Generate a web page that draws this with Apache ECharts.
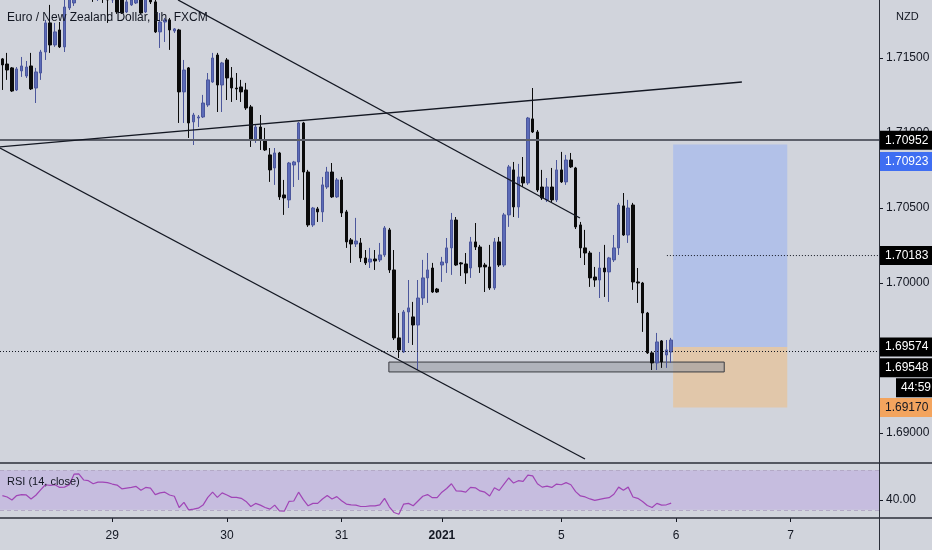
<!DOCTYPE html>
<html><head><meta charset="utf-8">
<script src="https://cdn.jsdelivr.net/npm/echarts/dist/echarts.min.js"></script>
<style>html,body{margin:0;padding:0;background:#d1d4dc;}#c{width:932px;height:550px;}</style>
</head><body><div id="c"></div>
<script>
// ---- data ----
const barCount = 184;
const tickIdx = [23, 47, 71, 92, 117, 141, 165];
const tickText = ['29', '30', '31', '2021', '5', '6', '7'];
const priceTicks = [1.690, 1.700, 1.705, 1.710, 1.715];
const rsiTicks = [40];
// [open, close, low, high]
const candles = [
[1.71494,1.71454,1.71287,1.71500],[1.71460,1.71420,1.71354,1.71534],[1.71434,1.71280,1.71274,1.71440],[1.71287,1.71427,1.71280,1.71440],
[1.71414,1.71447,1.71374,1.71507],[1.71380,1.71440,1.71367,1.71480],[1.71447,1.71294,1.71287,1.71534],[1.71300,1.71407,1.71200,1.71434],
[1.71400,1.71540,1.71354,1.71554],[1.71540,1.71734,1.71487,1.71754],[1.71734,1.71587,1.71534,1.71854],[1.71587,1.71674,1.71574,1.71734],
[1.71687,1.71574,1.71567,1.71740],[1.71574,1.71840,1.71540,1.71907],[1.71834,1.71940,1.71820,1.71967],[1.71867,1.71987,1.71847,1.72020],
[1.71987,1.72087,1.71954,1.72120],[1.72087,1.71987,1.71940,1.72107],[1.71987,1.71954,1.71920,1.72054],[1.71967,1.71900,1.71874,1.72020],
[1.71900,1.71954,1.71880,1.72007],[1.71954,1.71920,1.71867,1.71987],[1.71920,1.71887,1.71734,1.71967],[1.71887,1.71940,1.71867,1.71987],
[1.71940,1.71807,1.71794,1.71967],[1.71900,1.71800,1.71794,1.71920],[1.71807,1.71874,1.71800,1.71900],[1.71854,1.71887,1.71847,1.71927],
[1.71867,1.71954,1.71860,1.71980],[1.71954,1.71800,1.71794,1.71967],[1.71807,1.71907,1.71800,1.71940],[1.71907,1.71874,1.71860,1.71927],
[1.71874,1.71674,1.71667,1.71887],[1.71674,1.71740,1.71567,1.71800],[1.71740,1.71754,1.71607,1.71767],[1.71754,1.71687,1.71554,1.71767],
[1.71680,1.71694,1.71667,1.71700],[1.71687,1.71274,1.71067,1.71694],[1.71274,1.71420,1.71067,1.71487],[1.71434,1.71067,1.70967,1.71440],
[1.71074,1.71120,1.70920,1.71134],[1.71100,1.71107,1.71040,1.71120],[1.71107,1.71200,1.71100,1.71254],[1.71187,1.71354,1.71174,1.71400],
[1.71340,1.71500,1.71334,1.71534],[1.71520,1.71320,1.71140,1.71534],[1.71320,1.71467,1.71140,1.71474],[1.71487,1.71367,1.71220,1.71500],
[1.71367,1.71300,1.71207,1.71440],[1.71300,1.71294,1.71220,1.71400],[1.71307,1.71274,1.71207,1.71354],[1.71287,1.71167,1.71154,1.71334],
[1.71174,1.70954,1.70907,1.71187],[1.70954,1.71040,1.70934,1.71054],[1.71040,1.70954,1.70887,1.71120],[1.70954,1.70887,1.70880,1.71034],
[1.70854,1.70754,1.70674,1.70900],[1.70767,1.70867,1.70654,1.70900],[1.70867,1.70574,1.70554,1.70874],[1.70587,1.70567,1.70454,1.70687],
[1.70554,1.70800,1.70500,1.70807],[1.70787,1.70807,1.70640,1.70814],[1.70807,1.71067,1.70687,1.71074],[1.71067,1.70740,1.70554,1.71074],
[1.70740,1.70387,1.70374,1.70754],[1.70387,1.70500,1.70374,1.70507],[1.70494,1.70474,1.70407,1.70507],[1.70474,1.70654,1.70407,1.70707],
[1.70640,1.70740,1.70627,1.70774],[1.70740,1.70574,1.70567,1.70800],[1.70574,1.70687,1.70567,1.70700],[1.70687,1.70467,1.70440,1.70707],
[1.70474,1.70274,1.70234,1.70487],[1.70287,1.70260,1.70134,1.70300],[1.70260,1.70280,1.70240,1.70434],[1.70267,1.70167,1.70140,1.70300],
[1.70167,1.70134,1.70120,1.70220],[1.70140,1.70160,1.70100,1.70234],[1.70160,1.70147,1.70087,1.70220],[1.70154,1.70187,1.70140,1.70267],
[1.70187,1.70367,1.70174,1.70380],[1.70354,1.70087,1.70067,1.70367],[1.70087,1.69634,1.69620,1.70220],[1.69634,1.69554,1.69500,1.69800],
[1.69540,1.69807,1.69534,1.69820],[1.69807,1.69834,1.69600,1.70020],[1.69774,1.69720,1.69587,1.69874],[1.69720,1.69900,1.69420,1.70020],
[1.69900,1.70034,1.69854,1.70154],[1.70034,1.70087,1.69867,1.70200],[1.70100,1.69940,1.69934,1.70134],[1.69960,1.69940,1.69934,1.69967],
[1.70120,1.70140,1.70007,1.70174],[1.70134,1.70234,1.70067,1.70300],[1.70234,1.70420,1.70054,1.70467],[1.70420,1.70120,1.70114,1.70440],
[1.70134,1.70127,1.70047,1.70140],[1.70127,1.70067,1.69994,1.70200],[1.70100,1.70274,1.70034,1.70307],[1.70274,1.70240,1.70220,1.70400],
[1.70240,1.70107,1.70067,1.70254],[1.70120,1.70107,1.69940,1.70134],[1.70107,1.69967,1.69954,1.70254],[1.69967,1.70274,1.69954,1.70300],
[1.70274,1.70120,1.70107,1.70307],[1.70120,1.70454,1.70107,1.70467],[1.70454,1.70774,1.70374,1.70787],[1.70754,1.70507,1.70440,1.70807],
[1.70507,1.70707,1.70434,1.70794],[1.70707,1.70667,1.70640,1.70840],[1.70667,1.71100,1.70654,1.71107],[1.71094,1.71007,1.71000,1.71300],
[1.71007,1.70620,1.70607,1.71020],[1.70640,1.70567,1.70554,1.70754],[1.70554,1.70640,1.70540,1.70700],[1.70640,1.70554,1.70540,1.70767],
[1.70554,1.70754,1.70540,1.70820],[1.70754,1.70674,1.70667,1.70874],[1.70674,1.70820,1.70654,1.70854],[1.70820,1.70774,1.70767,1.70867],
[1.70767,1.70374,1.70360,1.70774],[1.70387,1.70234,1.70167,1.70407],[1.70234,1.70200,1.70120,1.70354],[1.70200,1.70034,1.69974,1.70214],
[1.70040,1.70020,1.69974,1.70107],[1.70020,1.70100,1.69900,1.70207],[1.70100,1.70074,1.69907,1.70254],[1.70074,1.70167,1.69874,1.70174],
[1.70154,1.70234,1.70140,1.70320],[1.70234,1.70520,1.70187,1.70534],[1.70514,1.70320,1.70314,1.70600],[1.70320,1.70500,1.70267,1.70554],
[1.70520,1.70007,1.69954,1.70534],[1.70007,1.70000,1.69867,1.70100],[1.70000,1.69800,1.69674,1.70007],[1.69800,1.69534,1.69527,1.69807],
[1.69534,1.69467,1.69420,1.69540],[1.69467,1.69607,1.69420,1.69667],[1.69614,1.69474,1.69434,1.69620],[1.69520,1.69554,1.69434,1.69620],
[1.69540,1.69620,1.69467,1.69634]
];
const rsi = [
44.4,43.0,39.9,44.4,45.4,45.0,41.0,44.7,50.2,55.3,54.6,55.3,52.6,52.9,55.3,65.9,66.2,60.1,59.4,56.3,
58.0,58.0,57.4,56.0,55.0,51.2,51.9,52.6,53.6,49.8,52.6,51.9,45.4,47.1,47.8,45.0,43.7,32.4,37.5,30.0,
30.7,31.7,34.8,42.6,47.8,42.6,47.1,45.0,42.6,42.6,41.6,38.5,33.4,36.5,34.8,32.4,30.7,34.8,29.0,28.6,
38.5,38.9,47.8,40.3,34.1,36.5,36.5,41.0,44.4,41.0,43.3,39.2,35.8,35.1,34.8,33.4,33.4,34.1,34.1,35.1,
41.6,33.1,27.3,25.6,35.8,36.5,34.1,38.9,43.7,45.4,42.3,42.3,47.8,51.5,56.3,49.1,48.8,47.8,52.6,52.2,
49.1,47.8,44.0,52.2,49.5,56.0,62.1,57.0,59.4,58.7,64.9,64.2,56.3,52.9,53.9,52.6,56.0,55.3,57.4,55.3,
48.4,44.0,43.0,41.0,39.6,40.6,41.6,42.3,45.7,52.9,49.8,52.9,43.0,41.6,38.5,34.4,32.4,36.5,34.8,35.1,
36.8
];
const trendLines = [
  [[36.76, 1.71887], [120.9, 1.70433]],
  [[-0.5, 1.70907], [154.8, 1.71340]],
  [[-0.5, 1.70900], [121.96, 1.68827]]
];
const resistance = 1.70952;
const lastPrice = 1.69548;
const entryPrice = 1.69574;
const targetPrice = 1.70923;
const stopPrice = 1.69170;
const midLevel = 1.70183;
const midLevelStart = 139.1;
const positionX = [140.4, 164.3];
const zoneX = [80.9, 151.1];
const zoneY = [1.69407, 1.69473];
const countdown = '44:59';
const priceRange = [1.688, 1.718867];
const rsiRange = [21.8, 77.2];
const rsiBand = [30, 70];

// ---- chart ----
const FONT = "'Liberation Sans',Arial,sans-serif";
const TXT = '#131722';
const cats = Array.from({length: barCount}, (_, i) => String(i));
const labelOf = i => { const k = tickIdx.indexOf(i); return k >= 0 ? tickText[k] : ''; };

const chart = echarts.init(document.getElementById('c'), null, {renderer: 'canvas'});
const lab = (txt, bg, fg, off) => ({
  show: true, position: 'end', formatter: txt, distance: 1,
  backgroundColor: bg, color: fg || '#fff', fontFamily: FONT, fontSize: 12,
  padding: [4, 5, 3, 5], offset: off || [0, 0]
});
const hidden = {color: 'rgba(0,0,0,0)', width: 0};

const option = {
  backgroundColor: '#d1d4dc',
  animation: false,
  title: [
    {text: 'Euro / New Zealand Dollar, 1h, FXCM', left: 7, top: 12, padding: 0,
     textStyle: {fontFamily: FONT, fontSize: 12, fontWeight: 'normal', color: TXT}},
    {text: 'RSI (14, close)', left: 7, top: 476, padding: 0,
     textStyle: {fontFamily: FONT, fontSize: 11, fontWeight: 'normal', color: TXT}},
    {text: 'NZD', left: 896, top: 11, padding: 0,
     textStyle: {fontFamily: FONT, fontSize: 11, fontWeight: 'normal', color: TXT}}
  ],
  grid: [
    {left: 0, top: 0, width: 879, height: 463, outerBoundsMode: 'none'},
    {left: 0, top: 463, width: 879, height: 55, outerBoundsMode: 'none'}
  ],
  xAxis: [
    {type: 'category', gridIndex: 0, data: cats, boundaryGap: true,
     axisLine: {show: false}, axisTick: {show: false}, axisLabel: {show: false}, splitLine: {show: false}},
    {type: 'category', gridIndex: 1, data: cats, boundaryGap: true,
     axisLine: {show: false},
     axisTick: {show: true, alignWithLabel: true, length: 4, interval: i => tickIdx.includes(i), lineStyle: {color: TXT}},
     axisLabel: {show: true, interval: i => tickIdx.includes(i), margin: 12,
       formatter: (v) => { const t = labelOf(Number(v)); return t === '2021' ? '{b|2021}' : t; },
       color: TXT, fontFamily: FONT, fontSize: 12,
       rich: {b: {fontWeight: 'bold', color: TXT, fontFamily: FONT, fontSize: 12}}},
     splitLine: {show: false}},
    {type: 'value', gridIndex: 0, min: -0.5, max: barCount - 0.5, show: false}
  ],
  yAxis: [
    {type: 'value', gridIndex: 0, position: 'right', min: priceRange[0], max: priceRange[1],
     splitLine: {show: false},
     axisLine: {show: false, onZero: false},
     axisTick: {show: true, length: 4, customValues: priceTicks, lineStyle: {color: TXT}},
     axisLabel: {show: true, customValues: priceTicks, formatter: v => v.toFixed(5), margin: 7,
       color: TXT, fontFamily: FONT, fontSize: 12}},
    {type: 'value', gridIndex: 1, position: 'right', min: rsiRange[0], max: rsiRange[1],
     splitLine: {show: false},
     axisLine: {show: false, onZero: false},
     axisTick: {show: true, length: 4, customValues: rsiTicks, lineStyle: {color: TXT}},
     axisLabel: {show: true, customValues: rsiTicks, formatter: v => v.toFixed(2), margin: 7,
       color: TXT, fontFamily: FONT, fontSize: 12}}
  ],
  series: [
    {
      type: 'candlestick', xAxisIndex: 0, yAxisIndex: 0, data: candles, barWidth: 3, z: 3,
      itemStyle: {color: '#5b6bb8', color0: '#0b0b0b', borderColor: '#4b569c', borderColor0: '#0b0b0b', borderWidth: 1}
    },
    // position boxes and support zone
    {
      type: 'line', xAxisIndex: 2, yAxisIndex: 0, data: [], z: 4, silent: true,
      markArea: {
        silent: true,
        data: [
          [{xAxis: positionX[0], yAxis: targetPrice, itemStyle: {color: 'rgba(126,160,254,0.36)'}}, {xAxis: positionX[1], yAxis: entryPrice}],
          [{xAxis: positionX[0], yAxis: entryPrice, itemStyle: {color: 'rgba(255,178,83,0.36)'}}, {xAxis: positionX[1], yAxis: stopPrice}],
          [{xAxis: zoneX[0], yAxis: zoneY[1], itemStyle: {color: 'rgba(150,152,160,0.55)', borderColor: '#3a3b40', borderWidth: 1}}, {xAxis: zoneX[1], yAxis: zoneY[0]}]
        ]
      }
    },
    ...trendLines.map(seg => ({
      type: 'line', xAxisIndex: 2, yAxisIndex: 0, data: seg, symbol: 'none', z: 6, silent: true,
      lineStyle: {color: '#131722', width: 1.3}
    })),
    {
      type: 'line', xAxisIndex: 2, yAxisIndex: 0, z: 6, silent: true, symbol: 'none',
      data: [[midLevelStart, midLevel], [barCount - 0.5, midLevel]],
      lineStyle: {color: '#131722', width: 1, type: [1, 2]}
    },
    // horizontal levels + right-side price labels
    {
      type: 'line', xAxisIndex: 2, yAxisIndex: 0, data: [], z: 7, silent: true, clip: false,
      markLine: {
        silent: true, symbol: 'none', animation: false, precision: 5,
        data: [
          {yAxis: resistance, lineStyle: {color: '#5d606b', width: 2, type: 'solid'}, label: lab('1.70952', '#000')},
          {yAxis: lastPrice, lineStyle: {color: '#131722', width: 1, type: [1, 2]}, label: lab('1.69548', '#000', '#fff', [0, 17])},
          {yAxis: entryPrice, lineStyle: hidden, label: lab('1.69574', '#000')},
          {yAxis: targetPrice, lineStyle: hidden, label: lab('1.70923', '#3f6ef2', '#fff', [0, 17])},
          {yAxis: midLevel, lineStyle: hidden, label: lab('1.70183', '#000')},
          {yAxis: stopPrice, lineStyle: hidden, label: lab('1.69170', '#f3a45e', '#131722')},
          {yAxis: lastPrice, lineStyle: hidden, label: lab(countdown, '#000', '#fff', [16, 37])}
        ]
      }
    },
    {
      type: 'line', xAxisIndex: 1, yAxisIndex: 1, data: rsi, symbol: 'none', z: 5, silent: true,
      lineStyle: {color: '#a045b6', width: 1.2},
      markArea: {silent: true, itemStyle: {color: 'rgba(180,150,230,0.36)'},
        data: [[{yAxis: rsiBand[0]}, {yAxis: rsiBand[1]}]]},
      markLine: {silent: true, symbol: 'none', label: {show: false}, precision: 2,
        lineStyle: {color: '#b3a9c6', width: 1, type: [4, 3]},
        data: [{yAxis: rsiBand[0]}, {yAxis: rsiBand[1]}]}
    }
  ],
  graphic: [
    {type: 'line', z: 100, silent: true, shape: {x1: 0, y1: 463, x2: 932, y2: 463}, style: {stroke: '#2a2e39', lineWidth: 1.6}},
    {type: 'line', z: 100, silent: true, shape: {x1: 0, y1: 518, x2: 932, y2: 518}, style: {stroke: '#2a2e39', lineWidth: 1.6}},
    {type: 'line', z: 100, silent: true, shape: {x1: 879.5, y1: 0, x2: 879.5, y2: 550}, style: {stroke: '#2a2e39', lineWidth: 1}}
  ]
};
chart.setOption(option);
</script>
</body></html>
